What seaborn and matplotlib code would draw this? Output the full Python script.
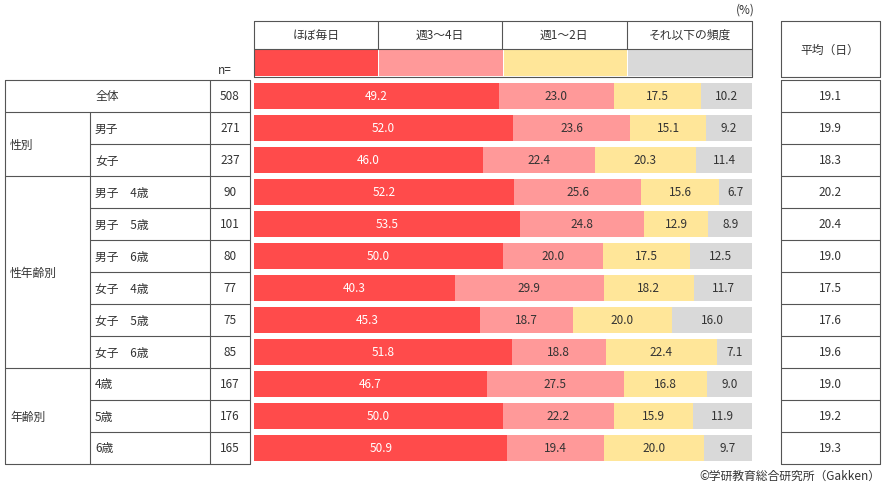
import matplotlib
matplotlib.use("Agg")
import matplotlib.pyplot as plt
import seaborn as sns
import numpy as np
import pandas as pd
from matplotlib.lines import Line2D
from matplotlib.patches import Rectangle

sns.set_style("white")
plt.rcParams['font.family'] = ['Noto Sans CJK JP', 'DejaVu Sans']

rows = ["全体", "男子", "女子", "男子　4歳", "男子　5歳", "男子　6歳", "女子　4歳", "女子　5歳", "女子　6歳", "4歳", "5歳", "6歳"]
n_vals = [508, 271, 237, 90, 101, 80, 77, 75, 85, 167, 176, 165]
series = ["ほぼ毎日", "週3～4日", "週1～2日", "それ以下の頻度"]
s1 = [49.2, 52.0, 46.0, 52.2, 53.5, 50.0, 40.3, 45.3, 51.8, 46.7, 50.0, 50.9]
s2 = [23.0, 23.6, 22.4, 25.6, 24.8, 20.0, 29.9, 18.7, 18.8, 27.5, 22.2, 19.4]
s3 = [17.5, 15.1, 20.3, 15.6, 12.9, 17.5, 18.2, 20.0, 22.4, 16.8, 15.9, 20.0]
s4 = [10.2, 9.2, 11.4, 6.7, 8.9, 12.5, 11.7, 16.0, 7.1, 9.0, 11.9, 9.7]
avg = [19.1, 19.9, 18.3, 20.2, 20.4, 19.0, 17.5, 17.6, 19.6, 19.0, 19.2, 19.3]
colors = ["#FF4B4B", "#FF9999", "#FFE699", "#D9D9D9"]
txtcol = ["white", "#333333", "#333333", "#333333"]

W, H = 892, 485
fig = plt.figure(figsize=(W/100, H/100), dpi=100)

def fx(px): return px / W
def fy(py): return 1 - py / H

def hline(x0, x1, y, lw=0.8):
    fig.add_artist(Line2D([fx(x0), fx(x1)], [fy(y), fy(y)], color="#555555", lw=lw))
def vline(x, y0, y1, lw=0.8):
    fig.add_artist(Line2D([fx(x), fx(x)], [fy(y0), fy(y1)], color="#555555", lw=lw))
def text(x, y, s, ha="center", **kw):
    fig.text(fx(x), fy(y), s, ha=ha, va="center", fontsize=8.5, color="#333333", **kw)

# bar axes
top, rowh = 81, 32
bottom = top + rowh * len(rows)
ax = fig.add_axes([fx(254), fy(bottom), fx(752) - fx(254), (bottom - top) / H])
df = pd.DataFrame({"row": rows, "a": s1, "b": s2, "c": s3, "d": s4})
cum = np.cumsum(np.array([s1, s2, s3, s4]), axis=0)
for k in range(3, -1, -1):
    d = pd.DataFrame({"row": rows, "v": cum[k]})
    sns.barplot(data=d, x="v", y="row", orient="h", color=colors[k], width=0.84,
                saturation=1, ax=ax, linewidth=0)
for i in range(len(rows)):
    vals = [s1[i], s2[i], s3[i], s4[i]]
    left = 0
    for k, v in enumerate(vals):
        ax.text(left + v / 2, i, f"{v:.1f}", ha="center", va="center",
                fontsize=8.5, color=txtcol[k])
        left += v
ax.set_xlim(0, 100)
ax.set_ylim(len(rows) - 0.5, -0.5)
ax.axis("off")

# header
text(745, 10, "(%)")
hline(254, 752, 22); hline(254, 752, 50); hline(254, 752, 78)
for x in [254, 378, 502, 627, 752]:
    vline(x, 22, 78 if x in (254, 752) else 50)
cx = [316, 440, 564, 690]
for k in range(4):
    text(cx[k], 35, series[k])
    fig.add_artist(Rectangle((fx(254 + k * 124.5) + 0.001, fy(77)), fx(123.5), (26) / H,
                             color=colors[k], lw=0))
text(225, 71, "n=")
# average box header
hline(781, 880, 22); hline(781, 880, 78)
vline(781, 22, 78); vline(880, 22, 78)
text(830, 50, "平均（日）")

# table lines
bounds = [top + rowh * i for i in range(len(rows) + 1)]
groups = [(0, 1, None), (1, 3, "性別"), (3, 9, "性年齢別"), (9, 12, "年齢別")]
for y in bounds:
    hline(781, 880, y)
for g0, g1, name in groups:
    hline(5, 250, bounds[g0])
    if name:
        text(10, (bounds[g0] + bounds[g1]) / 2, name, ha="left")
        vline(90, bounds[g0], bounds[g1])
    for i in range(g0 + 1, g1):
        hline(90, 250, bounds[i])
hline(5, 250, bounds[-1])
vline(5, top, bounds[-1]); vline(210, top, bounds[-1]); vline(250, top, bounds[-1])
vline(781, top, bounds[-1]); vline(880, top, bounds[-1])

for i, r in enumerate(rows):
    yc = (bounds[i] + bounds[i + 1]) / 2
    if i == 0:
        text(107, yc, r)
    else:
        text(95, yc, r, ha="left")
    text(230, yc, str(n_vals[i]))
    text(830, yc, f"{avg[i]:.1f}")

text(880, 476, "©学研教育総合研究所（Gakken）", ha="right")
fig.savefig("out.png", dpi=100)
